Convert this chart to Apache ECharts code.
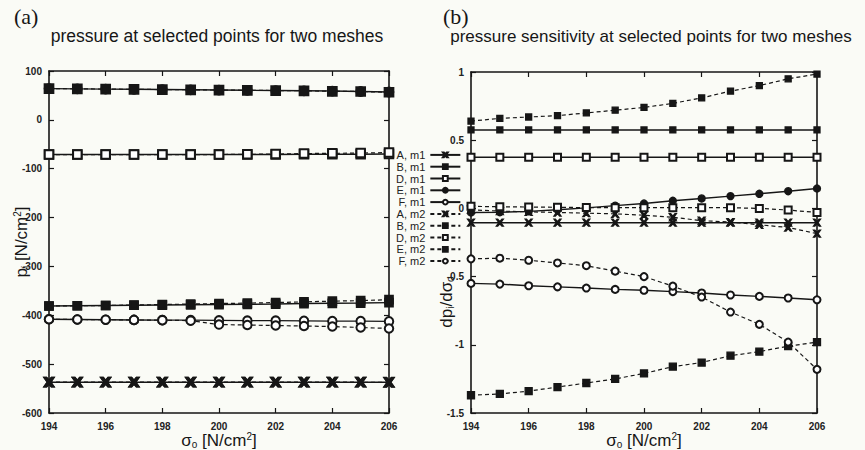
<!DOCTYPE html>
<html>
<head>
<meta charset="utf-8">
<script src="https://cdn.jsdelivr.net/npm/echarts@6/dist/echarts.min.js"></script>
<style>
  html, body { margin: 0; padding: 0; background: #fafbf6; }
  #chart { width: 865px; height: 450px; }
</style>
</head>
<body>
<div id="chart"></div>
<script>
// Load steps sigma_o [N/cm^2]
const sigma = [194, 195, 196, 197, 198, 199, 200, 201, 202, 203, 204, 205, 206];

// (a) pressure p_i [N/cm^2] at points A, B, D, E, F for meshes m1 and m2
const pA_m1 = [-537, -537, -537, -537, -537, -537, -537, -537, -537, -537, -537, -537, -537];
const pA_m2 = [-537, -537, -537, -537, -537, -537, -537, -537, -537, -537, -537, -537, -537.5];
const pB_m1 = [-381, -380.5, -380, -379.5, -379, -378.5, -378, -377.5, -377, -376, -375.5, -375, -374];
const pB_m2 = [-381, -380.5, -380, -379, -378, -377, -376, -375, -374, -372.5, -371, -370, -368];
const pD_m1 = [-71, -71, -71, -71, -71, -71, -71, -71, -71, -70.5, -70.5, -70.5, -70];
const pD_m2 = [-71, -71, -71, -71, -71, -71, -71, -70.5, -70, -69, -68.5, -68, -67];
const pE_m1 = [64, 63.5, 63, 62.5, 62, 61.5, 61, 60.5, 60, 59.5, 59, 58, 57];
const pE_m2 = [64, 63.5, 63, 62.5, 62, 61.5, 61, 60.5, 60, 59.5, 58.5, 58, 56.5];
const pF_m1 = [-408, -408.5, -409, -409.5, -410, -410, -410.5, -411, -411, -411.5, -412, -412, -412.5];
const pF_m2 = [-408, -408.5, -409, -409.5, -410, -411, -419, -420, -421, -422, -423, -425, -427];

// (b) pressure sensitivity dp_i/dsigma_o
const sA_m1 = [-0.105, -0.105, -0.105, -0.105, -0.105, -0.105, -0.105, -0.105, -0.105, -0.105, -0.105, -0.105, -0.105];
const sA_m2 = [-0.01, -0.02, -0.025, -0.03, -0.035, -0.04, -0.05, -0.065, -0.09, -0.1, -0.12, -0.14, -0.185];
const sB_m1 = [0.575, 0.575, 0.575, 0.575, 0.575, 0.575, 0.575, 0.575, 0.575, 0.575, 0.575, 0.575, 0.575];
const sB_m2 = [0.64, 0.66, 0.67, 0.68, 0.70, 0.72, 0.74, 0.77, 0.81, 0.86, 0.90, 0.95, 0.985];
const sD_m1 = [0.375, 0.375, 0.375, 0.375, 0.375, 0.375, 0.375, 0.375, 0.375, 0.375, 0.375, 0.375, 0.375];
const sD_m2 = [0.015, 0.012, 0.01, 0.008, 0.006, 0.005, 0.005, 0.005, 0.005, 0.005, 0.0, -0.012, -0.03];
const sE_m1 = [-0.03, -0.028, -0.022, -0.01, 0.004, 0.02, 0.036, 0.056, 0.073, 0.09, 0.107, 0.126, 0.146];
const sE_m2 = [-1.37, -1.36, -1.34, -1.31, -1.28, -1.25, -1.21, -1.16, -1.13, -1.08, -1.05, -1.01, -0.98];
const sF_m1 = [-0.55, -0.555, -0.567, -0.575, -0.584, -0.594, -0.60, -0.61, -0.62, -0.635, -0.645, -0.657, -0.67];
const sF_m2 = [-0.37, -0.365, -0.38, -0.40, -0.42, -0.46, -0.50, -0.57, -0.65, -0.76, -0.85, -0.98, -1.18];

const xTicks = { min: 194, max: 206, interval: 2 };
const pTicks = { min: -600, max: 100, interval: 100 };
const sTicks = { min: -1.5, max: 1, interval: 0.5 };

const INK = '#161616';
const SANS = 'Liberation Sans, Arial, sans-serif';
const crossPath = 'path://M0,0L3.6,5L0,10L2,10L5,6.6L8,10L10,10L6.4,5L10,0L8,0L5,3.4L2,0Z';

// Marker style per point, line style per mesh
const pointStyle = {
  A: { symbol: crossPath, size: 7 },
  B: { symbol: 'rect', size: 6 },
  D: { symbol: 'emptyRect', size: 7 },
  E: { symbol: 'circle', size: 7, symbol2: 'rect' },
  F: { symbol: 'emptyCircle', size: 7 }
};

function makeSeries(name, point, mesh, values, gridIdx) {
  const st = pointStyle[point];
  const sym = (mesh === 'm2' && st.symbol2) ? st.symbol2 : st.symbol;
  // the pressure panel uses heavier, slightly larger markers
  const heavy = gridIdx === 0;
  return {
    name: name,
    type: 'line',
    xAxisIndex: gridIdx * 2,
    yAxisIndex: gridIdx * 2,
    data: sigma.map((x, i) => [x, values[i]]),
    symbol: sym,
    symbolSize: heavy ? st.size + 1.5 : st.size,
    showAllSymbol: true,
    lineStyle: { color: INK, width: mesh === 'm1' ? 1.4 : 1.2, type: mesh === 'm1' ? 'solid' : [4, 3] },
    itemStyle: { color: INK, borderColor: INK, borderWidth: heavy ? 2.2 : 1.3 },
    emphasis: { disabled: true },
    animation: false,
    z: 3
  };
}

const pressureSets = [
  ['A, m1', 'A', 'm1', pA_m1], ['B, m1', 'B', 'm1', pB_m1], ['D, m1', 'D', 'm1', pD_m1],
  ['E, m1', 'E', 'm1', pE_m1], ['F, m1', 'F', 'm1', pF_m1],
  ['A, m2', 'A', 'm2', pA_m2], ['B, m2', 'B', 'm2', pB_m2], ['D, m2', 'D', 'm2', pD_m2],
  ['E, m2', 'E', 'm2', pE_m2], ['F, m2', 'F', 'm2', pF_m2]
];
const sensSets = [
  ['A, m1', 'A', 'm1', sA_m1], ['B, m1', 'B', 'm1', sB_m1], ['D, m1', 'D', 'm1', sD_m1],
  ['E, m1', 'E', 'm1', sE_m1], ['F, m1', 'F', 'm1', sF_m1],
  ['A, m2', 'A', 'm2', sA_m2], ['B, m2', 'B', 'm2', sB_m2], ['D, m2', 'D', 'm2', sD_m2],
  ['E, m2', 'E', 'm2', sE_m2], ['F, m2', 'F', 'm2', sF_m2]
];

// sensitivity series first so the legend takes its (smaller) markers from them
const series = []
  .concat(sensSets.map(s => makeSeries(s[0], s[1], s[2], s[3], 1)))
  .concat(pressureSets.map(s => makeSeries(s[0], s[1], s[2], s[3], 0)));

const tickLabel = { color: '#222', fontSize: 10, fontFamily: SANS, fontWeight: 'bold' };
const frameLine = { show: true, onZero: false, lineStyle: { color: INK, width: 1.6 } };
const innerTick = { show: true, inside: true, length: 5, lineStyle: { color: INK, width: 1.2 } };

const xName = '{s|σ}{sub|o} [N/cm{sup|2}]';
const nameRich = {
  s: { fontSize: 17, fontFamily: SANS, color: INK, lineHeight: 18 },
  sub: { fontSize: 10, fontFamily: SANS, color: INK, verticalAlign: 'bottom', lineHeight: 18 },
  sup: { fontSize: 10, fontFamily: SANS, color: INK, verticalAlign: 'top', lineHeight: 18 }
};

function xAxes(gridIdx) {
  return [
    Object.assign({ gridIndex: gridIdx, type: 'value', position: 'bottom',
      axisLine: frameLine, axisTick: innerTick, splitLine: { show: false },
      axisLabel: Object.assign({ margin: 8 }, tickLabel),
      name: xName, nameLocation: 'middle', nameGap: 18, nameMoveOverlap: false,
      nameTextStyle: { fontSize: 17, fontFamily: SANS, color: INK, rich: nameRich } }, xTicks),
    Object.assign({ gridIndex: gridIdx, type: 'value', position: 'top',
      axisLine: frameLine, axisTick: innerTick, splitLine: { show: false },
      axisLabel: { show: false } }, xTicks)
  ];
}

function yAxes(gridIdx, ticks, labelFmt, extra) {
  return [
    Object.assign({ gridIndex: gridIdx, type: 'value', position: 'left',
      axisLine: frameLine, axisTick: innerTick, splitLine: { show: false },
      axisLabel: Object.assign({ margin: 7, formatter: labelFmt }, tickLabel) }, ticks, extra || {}),
    Object.assign({ gridIndex: gridIdx, type: 'value', position: 'right',
      axisLine: frameLine, axisTick: innerTick, splitLine: { show: false },
      axisLabel: { show: false } }, ticks)
  ];
}

const chart = echarts.init(document.getElementById('chart'), null, { renderer: 'svg' });

chart.setOption({
  backgroundColor: '#fafbf6',
  animation: false,
  grid: [
    { left: 49, right: 476, top: 71, bottom: 37, outerBoundsMode: 'none', containLabel: false },
    { left: 471, right: 48, top: 72, bottom: 37, outerBoundsMode: 'none', containLabel: false }
  ],
  xAxis: xAxes(0).concat(xAxes(1)),
  yAxis: yAxes(0, pTicks, v => String(v), {
      name: '{s|p}{sub|i} [N/cm{sup|2}]', nameLocation: 'middle', nameGap: 19, nameMoveOverlap: false,
      nameTextStyle: { fontSize: 17, fontFamily: SANS, color: INK, rich: nameRich } })
    .concat(yAxes(1, sTicks, v => String(v))),
  legend: {
    orient: 'vertical',
    left: 391,
    top: 144,
    align: 'right',
    itemWidth: 30,
    itemHeight: 6,
    itemGap: 0,
    selectedMode: false,
    textStyle: { fontSize: 11, lineHeight: 11.8, fontFamily: SANS, color: '#222' },
    data: ['A, m1', 'B, m1', 'D, m1', 'E, m1', 'F, m1', 'A, m2', 'B, m2', 'D, m2', 'E, m2', 'F, m2']
  },
  graphic: [
    { type: 'text', left: 14, top: 5,
      style: { text: '(a)', font: '22px "Liberation Serif", serif', fill: INK } },
    { type: 'text', left: 443, top: 5,
      style: { text: '(b)', font: '22px "Liberation Serif", serif', fill: INK } },
    { type: 'text', x: 217, y: 36,
      style: { text: 'pressure at selected points for two meshes', font: '17.5px "Liberation Sans", Arial, sans-serif',
        fill: INK, align: 'center', verticalAlign: 'middle' } },
    { type: 'text', x: 651, y: 36,
      style: { text: 'pressure sensitivity at selected points for two meshes', font: '17px "Liberation Sans", Arial, sans-serif',
        fill: INK, align: 'center', verticalAlign: 'middle' } },
    { type: 'text', x: 446, y: 302, rotation: Math.PI / 2,
      style: { text: '{s|dp}{sub|i}{s|/dσ}{sub|o}', align: 'center', verticalAlign: 'middle',
        rich: nameRich, fill: INK } }
  ],
  series: series
});
</script>
</body>
</html>
